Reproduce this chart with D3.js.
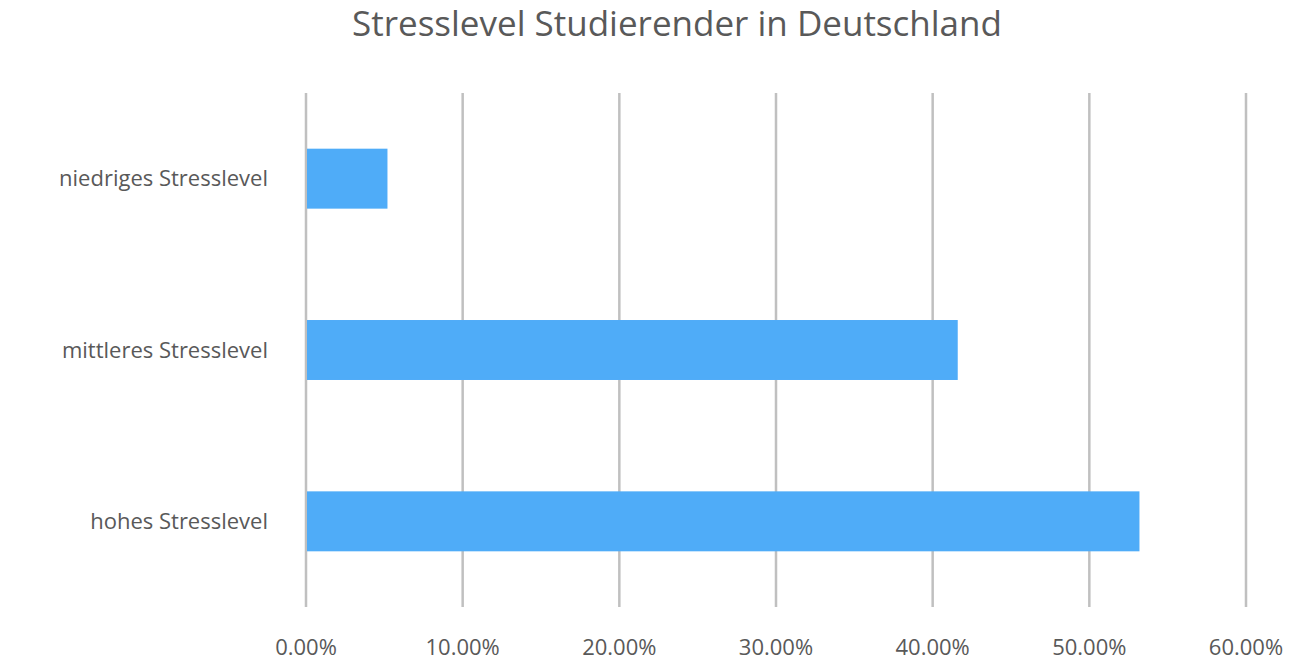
<!DOCTYPE html>
<html><head><meta charset="utf-8">
<script src="https://cdn.jsdelivr.net/npm/d3@7"></script>
<style>body{margin:0;background:#fff}text{font-family:"Open Sans",sans-serif;fill:#595959}</style>
</head><body><svg id="c" width="1300" height="667"></svg>
<script>
const categories = ["niedriges Stresslevel", "mittleres Stresslevel", "hohes Stresslevel"]
const values = [0.052, 0.416, 0.532]
const ticks = [0, 0.1, 0.2, 0.3, 0.4, 0.5, 0.6]

const svg = d3.select("#c")
const x = d3.scaleLinear().domain([0, 0.6]).range([306, 1246])
const y = d3.scaleBand().domain(categories).range([93, 607]).paddingInner(0.65).paddingOuter(0.325)

svg.append("text").attr("x", 677).attr("y", 36).attr("text-anchor", "middle")
  .attr("font-size", 35).text("Stresslevel Studierender in Deutschland")

svg.selectAll(".grid").data(ticks).join("line")
  .attr("x1", d => x(d)).attr("x2", d => x(d)).attr("y1", 93).attr("y2", 607)
  .attr("stroke", "#c0c0c0").attr("stroke-width", 2.5)

svg.selectAll(".tick").data(ticks).join("text")
  .attr("x", d => x(d)).attr("y", 655).attr("text-anchor", "middle")
  .attr("font-size", 22).text(d3.format(".2%"))

svg.selectAll(".bar").data(values).join("rect")
  .attr("x", x(0) + 1).attr("y", (d, i) => y(categories[i]))
  .attr("width", d => x(d) - x(0) - 1).attr("height", y.bandwidth())
  .attr("fill", "#4facf8")

svg.selectAll(".cat").data(categories).join("text")
  .attr("x", 268).attr("y", d => y(d) + y.bandwidth() / 2).attr("dy", "0.35em")
  .attr("text-anchor", "end").attr("font-size", 22).text(d => d)
</script></body></html>
